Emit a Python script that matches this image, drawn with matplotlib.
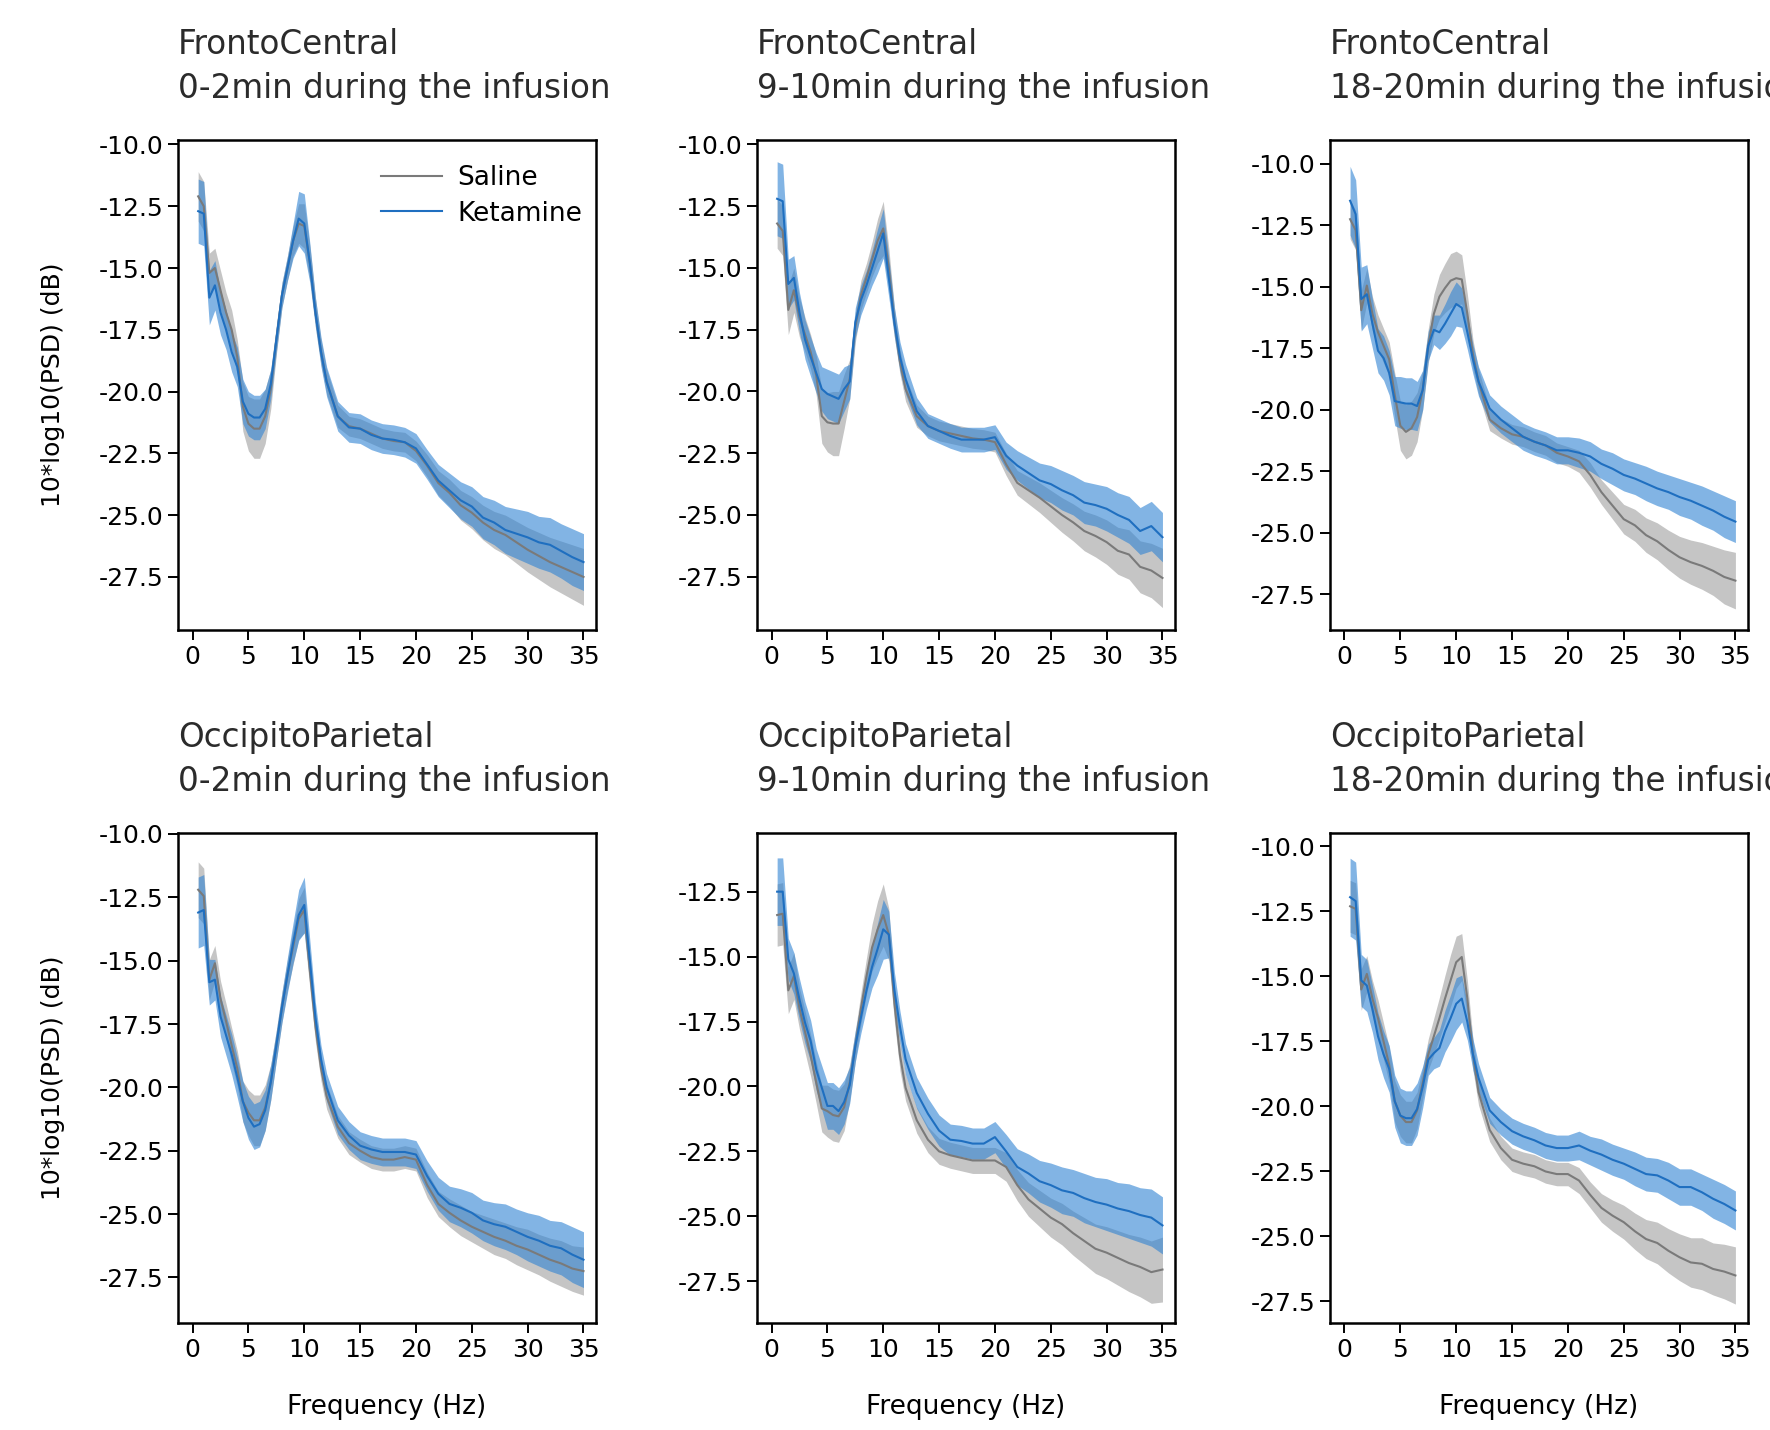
import numpy as np
import matplotlib
matplotlib.use("Agg")
import matplotlib.pyplot as plt
from matplotlib.ticker import MultipleLocator, FormatStrFormatter

plt.rcParams["font.family"] = ["DejaVu Sans"]
plt.rcParams["axes.unicode_minus"] = False

# frequency grid (Hz)
freqs = [0.5, 1, 1.5, 2, 2.5, 3, 3.5, 4, 4.5, 5, 5.5, 6, 6.5, 7, 7.5, 8, 8.5, 9, 9.5, 10, 10.5, 11, 11.5, 12,
         13, 14, 15, 16, 17, 18, 19, 20, 21, 22, 23, 24, 25, 26, 27, 28, 29, 30, 31, 32, 33, 34, 35]

regions = ["FrontoCentral", "OccipitoParietal"]
windows = ["0-2min during the infusion", "9-10min during the infusion", "18-20min during the infusion"]

# FrontoCentral, 0-2 min
fc_0_sal = [-12.1, -12.5, -15.2, -15.0, -15.9, -16.8, -17.5, -18.6, -20.6, -21.3, -21.5, -21.5, -21.0, -19.9, -17.9, -16.1,
            -15.0, -13.9, -13.2, -13.3, -14.8, -16.8, -18.4, -19.6, -21.0, -21.4, -21.5, -21.7, -21.9, -22.0, -22.05, -22.4,
            -23.0, -23.7, -24.1, -24.6, -24.9, -25.3, -25.6, -25.8, -26.1, -26.4, -26.65, -26.9, -27.1, -27.3, -27.5]
fc_0_sal_sem = [1.0, 1.0, 0.8, 0.8, 0.8, 0.8, 0.8, 0.7, 1.0, 1.1, 1.2, 1.2, 1.1, 0.8, 0.6, 0.5, 0.5, 0.6, 0.8, 0.9, 0.7, 0.6, 0.5, 0.5,
                0.45, 0.4, 0.4, 0.4, 0.4, 0.4, 0.4, 0.4, 0.45, 0.5, 0.55, 0.6, 0.65, 0.7, 0.75, 0.8, 0.85, 0.9, 0.95, 1.0, 1.05, 1.1, 1.15]
fc_0_ket = [-12.7, -12.8, -16.2, -15.7, -16.8, -17.5, -18.4, -19.0, -20.4, -20.9, -21.05, -21.05, -20.7, -19.7, -17.9, -16.1,
            -15.0, -13.9, -13.0, -13.2, -14.8, -16.8, -18.4, -19.6, -21.0, -21.45, -21.5, -21.75, -21.9, -21.95, -22.05, -22.3,
            -22.95, -23.6, -24.0, -24.4, -24.65, -25.1, -25.3, -25.6, -25.75, -25.9, -26.1, -26.2, -26.45, -26.7, -26.9]
fc_0_ket_sem = [1.3, 1.3, 1.1, 1.0, 0.9, 0.8, 0.8, 0.8, 0.9, 0.9, 0.9, 0.9, 0.8, 0.6, 0.5, 0.5, 0.5, 0.7, 1.1, 1.2, 0.8, 0.6, 0.6, 0.6,
                0.6, 0.6, 0.6, 0.6, 0.6, 0.6, 0.6, 0.6, 0.6, 0.65, 0.7, 0.75, 0.8, 0.85, 0.9, 0.95, 1.0, 1.05, 1.05, 1.1, 1.1, 1.15, 1.15]

# FrontoCentral, 9-10 min
fc_9_sal = [-13.2, -13.5, -16.7, -15.9, -17.0, -17.7, -18.4, -19.35, -21.0, -21.25, -21.3, -21.3, -20.4, -19.5, -17.4, -16.1,
            -15.4, -14.65, -13.9, -13.4, -15.0, -17.2, -18.8, -19.9, -21.0, -21.4, -21.6, -21.7, -21.8, -21.9, -21.95, -22.05,
            -22.95, -23.7, -24.0, -24.3, -24.65, -25.0, -25.3, -25.65, -25.85, -26.1, -26.45, -26.6, -27.1, -27.25, -27.55]
fc_9_sal_sem = [1.0, 1.0, 1.0, 0.9, 0.8, 0.7, 0.7, 0.8, 1.1, 1.2, 1.3, 1.3, 1.1, 0.8, 0.6, 0.6, 0.6, 0.7, 0.9, 1.1, 0.8, 0.6, 0.5, 0.5,
                0.45, 0.4, 0.4, 0.4, 0.4, 0.4, 0.4, 0.4, 0.45, 0.5, 0.55, 0.6, 0.65, 0.7, 0.75, 0.8, 0.85, 0.9, 0.95, 1.0, 1.05, 1.1, 1.2]
fc_9_ket = [-12.2, -12.3, -15.65, -15.4, -16.8, -17.9, -18.6, -19.25, -19.9, -20.1, -20.2, -20.3, -19.9, -19.6, -17.2, -16.3,
            -15.7, -15.0, -14.3, -13.6, -15.4, -17.2, -18.6, -19.5, -20.8, -21.4, -21.6, -21.8, -21.95, -21.95, -21.95, -21.85,
            -22.6, -23.0, -23.3, -23.6, -23.75, -24.0, -24.2, -24.5, -24.6, -24.75, -25.0, -25.2, -25.65, -25.45, -25.9]
fc_9_ket_sem = [1.5, 1.5, 1.0, 0.9, 0.8, 0.8, 0.8, 0.8, 0.9, 1.0, 1.0, 1.0, 0.9, 0.7, 0.6, 0.6, 0.6, 0.7, 0.9, 1.0, 0.8, 0.6, 0.6, 0.6,
                0.55, 0.5, 0.5, 0.5, 0.5, 0.5, 0.5, 0.5, 0.55, 0.6, 0.65, 0.7, 0.75, 0.8, 0.8, 0.85, 0.85, 0.9, 0.9, 0.95, 0.95, 1.0, 1.0]

# FrontoCentral, 18-20 min
fc_18_sal = [-12.25, -12.7, -15.95, -14.95, -16.1, -16.85, -17.4, -17.95, -19.4, -20.65, -20.9, -20.75, -20.3, -19.2, -17.4, -16.1,
             -15.4, -15.05, -14.75, -14.65, -14.7, -16.1, -17.75, -18.85, -20.4, -20.75, -21.0, -21.1, -21.3, -21.45, -21.75, -21.9,
             -22.1, -22.65, -23.35, -23.9, -24.45, -24.7, -25.1, -25.35, -25.7, -26.0, -26.2, -26.35, -26.55, -26.8, -26.95]
fc_18_sal_sem = [0.8, 0.8, 0.8, 0.7, 0.7, 0.7, 0.7, 0.7, 0.9, 1.0, 1.1, 1.1, 1.0, 0.8, 0.7, 0.8, 0.9, 1.0, 1.1, 1.1, 1.0, 0.8, 0.6, 0.5,
                 0.45, 0.4, 0.4, 0.4, 0.4, 0.4, 0.4, 0.4, 0.45, 0.5, 0.5, 0.55, 0.6, 0.65, 0.7, 0.75, 0.8, 0.85, 0.9, 0.95, 1.0, 1.1, 1.15]
fc_18_ket = [-11.5, -12.05, -15.5, -15.3, -16.5, -17.6, -17.9, -18.5, -19.65, -19.7, -19.75, -19.75, -19.85, -19.2, -17.4, -16.75,
             -16.85, -16.5, -16.1, -15.7, -15.85, -16.85, -17.95, -18.85, -19.95, -20.4, -20.75, -21.1, -21.3, -21.45, -21.65, -21.65,
             -21.75, -21.9, -22.2, -22.4, -22.65, -22.8, -23.0, -23.2, -23.35, -23.55, -23.7, -23.9, -24.1, -24.35, -24.55]
fc_18_ket_sem = [1.4, 1.4, 1.3, 1.2, 1.0, 0.9, 0.9, 0.9, 1.0, 1.05, 1.05, 1.05, 1.0, 0.8, 0.6, 0.6, 0.7, 0.8, 0.9, 0.9, 0.8, 0.7, 0.6, 0.6,
                 0.55, 0.55, 0.55, 0.55, 0.55, 0.55, 0.55, 0.55, 0.6, 0.6, 0.6, 0.65, 0.65, 0.65, 0.7, 0.7, 0.7, 0.75, 0.75, 0.8, 0.8, 0.85, 0.85]

# OccipitoParietal, 0-2 min
op_0_sal = [-12.2, -12.45, -15.75, -15.1, -16.5, -17.4, -18.35, -19.25, -20.55, -21.0, -21.3, -21.3, -20.8, -19.8, -18.35, -16.85,
            -15.55, -14.45, -13.35, -13.0, -15.4, -17.6, -19.25, -20.35, -21.55, -22.2, -22.5, -22.75, -22.85, -22.85, -22.75, -22.85,
            -23.85, -24.6, -24.95, -25.25, -25.5, -25.7, -25.9, -26.05, -26.25, -26.4, -26.6, -26.8, -26.95, -27.15, -27.25]
op_0_sal_sem = [1.1, 1.1, 0.8, 0.7, 0.7, 0.7, 0.7, 0.7, 0.8, 0.9, 1.0, 1.0, 0.9, 0.7, 0.6, 0.6, 0.6, 0.7, 0.8, 0.9, 0.7, 0.6, 0.5, 0.5,
                0.45, 0.45, 0.45, 0.45, 0.45, 0.45, 0.45, 0.45, 0.5, 0.5, 0.55, 0.6, 0.6, 0.65, 0.7, 0.7, 0.75, 0.8, 0.8, 0.85, 0.9, 0.9, 0.95]
op_0_ket = [-13.1, -13.0, -15.85, -15.75, -17.2, -17.95, -18.7, -19.6, -20.55, -21.2, -21.55, -21.45, -20.9, -19.8, -18.35, -16.85,
            -15.55, -14.3, -13.2, -12.8, -15.0, -17.25, -18.9, -20.0, -21.3, -21.9, -22.3, -22.45, -22.55, -22.55, -22.55, -22.65,
            -23.5, -24.2, -24.6, -24.75, -24.95, -25.25, -25.4, -25.5, -25.7, -25.9, -26.05, -26.25, -26.35, -26.6, -26.8]
op_0_ket_sem = [1.4, 1.4, 0.9, 0.8, 0.8, 0.8, 0.8, 0.8, 0.8, 0.85, 0.9, 0.9, 0.8, 0.7, 0.6, 0.6, 0.7, 0.8, 1.0, 1.1, 0.8, 0.6, 0.55, 0.55,
                0.55, 0.55, 0.55, 0.55, 0.55, 0.55, 0.55, 0.55, 0.6, 0.65, 0.7, 0.75, 0.8, 0.8, 0.85, 0.9, 0.9, 0.95, 1.0, 1.0, 1.05, 1.1, 1.1]

# OccipitoParietal, 9-10 min
op_9_sal = [-13.4, -13.35, -16.3, -15.75, -17.0, -17.9, -18.8, -19.85, -20.85, -20.95, -21.1, -21.15, -20.8, -19.85, -18.45, -17.0,
            -15.75, -14.65, -13.95, -13.4, -14.15, -16.8, -18.8, -20.05, -21.3, -22.05, -22.5, -22.65, -22.75, -22.85, -22.85, -22.85,
            -23.1, -23.8, -24.35, -24.7, -25.05, -25.3, -25.65, -25.95, -26.25, -26.4, -26.6, -26.8, -26.95, -27.15, -27.05]
op_9_sal_sem = [1.2, 1.2, 0.9, 0.9, 0.8, 0.8, 0.8, 0.8, 0.9, 1.0, 1.0, 1.0, 0.9, 0.7, 0.6, 0.6, 0.7, 0.9, 1.1, 1.2, 1.0, 0.7, 0.6, 0.5,
                0.5, 0.5, 0.5, 0.5, 0.5, 0.5, 0.5, 0.5, 0.55, 0.6, 0.65, 0.7, 0.75, 0.8, 0.85, 0.9, 0.95, 1.0, 1.05, 1.1, 1.15, 1.2, 1.25]
op_9_ket = [-12.5, -12.5, -15.1, -15.65, -16.65, -17.55, -18.25, -19.35, -20.05, -20.75, -20.75, -20.95, -20.6, -19.95, -18.45, -17.35,
            -16.3, -15.4, -14.7, -13.95, -14.15, -16.3, -17.7, -18.95, -20.25, -21.05, -21.7, -22.05, -22.1, -22.2, -22.2, -21.95,
            -22.5, -23.1, -23.35, -23.65, -23.8, -24.0, -24.1, -24.3, -24.45, -24.55, -24.7, -24.8, -24.95, -25.05, -25.35]
op_9_ket_sem = [1.3, 1.3, 0.8, 0.8, 0.8, 0.8, 0.8, 0.8, 0.85, 0.9, 0.9, 0.9, 0.85, 0.7, 0.6, 0.6, 0.7, 0.8, 1.0, 1.15, 0.9, 0.7, 0.6, 0.6,
                0.6, 0.6, 0.6, 0.6, 0.6, 0.6, 0.6, 0.6, 0.65, 0.7, 0.75, 0.8, 0.85, 0.9, 0.9, 0.95, 0.95, 1.0, 1.0, 1.05, 1.05, 1.1, 1.1]

# OccipitoParietal, 18-20 min
op_18_sal = [-12.3, -12.4, -15.5, -14.9, -15.85, -16.6, -17.5, -18.4, -19.8, -20.35, -20.6, -20.6, -20.15, -19.1, -18.0, -17.3,
             -16.6, -15.85, -15.15, -14.45, -14.25, -15.85, -18.0, -19.45, -20.9, -21.6, -22.05, -22.2, -22.3, -22.5, -22.6, -22.6,
             -22.85, -23.4, -23.9, -24.2, -24.45, -24.8, -25.1, -25.25, -25.55, -25.8, -26.0, -26.05, -26.25, -26.35, -26.5]
op_18_sal_sem = [1.0, 1.0, 0.8, 0.7, 0.7, 0.7, 0.7, 0.7, 0.8, 0.8, 0.8, 0.8, 0.7, 0.6, 0.6, 0.7, 0.8, 0.9, 1.0, 1.0, 0.9, 0.7, 0.6, 0.5,
                 0.45, 0.45, 0.45, 0.45, 0.45, 0.45, 0.45, 0.45, 0.5, 0.5, 0.55, 0.6, 0.65, 0.7, 0.75, 0.8, 0.85, 0.9, 0.95, 1.0, 1.0, 1.05, 1.1]
op_18_ket = [-11.95, -12.1, -15.15, -15.35, -16.25, -17.3, -18.0, -18.55, -19.8, -20.35, -20.45, -20.45, -20.1, -19.25, -18.2, -17.95,
             -17.75, -17.1, -16.6, -16.05, -15.85, -16.75, -18.0, -18.9, -20.15, -20.6, -20.95, -21.15, -21.3, -21.5, -21.6, -21.6,
             -21.5, -21.7, -21.85, -22.05, -22.2, -22.4, -22.6, -22.65, -22.85, -23.1, -23.1, -23.3, -23.55, -23.75, -24.0]
op_18_ket_sem = [1.5, 1.5, 1.0, 1.0, 0.9, 0.9, 0.9, 0.9, 1.0, 1.05, 1.05, 1.05, 1.0, 0.8, 0.6, 0.6, 0.7, 0.8, 0.9, 1.0, 0.9, 0.7, 0.6, 0.55,
                 0.5, 0.5, 0.5, 0.5, 0.5, 0.5, 0.5, 0.5, 0.55, 0.55, 0.6, 0.6, 0.6, 0.65, 0.65, 0.65, 0.7, 0.7, 0.7, 0.7, 0.75, 0.75, 0.75]

panels = [
    [(fc_0_sal, fc_0_sal_sem, fc_0_ket, fc_0_ket_sem),
     (fc_9_sal, fc_9_sal_sem, fc_9_ket, fc_9_ket_sem),
     (fc_18_sal, fc_18_sal_sem, fc_18_ket, fc_18_ket_sem)],
    [(op_0_sal, op_0_sal_sem, op_0_ket, op_0_ket_sem),
     (op_9_sal, op_9_sal_sem, op_9_ket, op_9_ket_sem),
     (op_18_sal, op_18_sal_sem, op_18_ket, op_18_ket_sem)],
]
ylims = [[(-29.65, -9.82), (-29.66, -9.82), (-28.96, -9.03)],
         [(-29.3, -9.96), (-29.11, -10.24), (-28.33, -9.48)]]

sal_line, sal_fill = "#7a7a7a", "#a6a6a6"
ket_line, ket_fill = "#1f6fc0", "#2f83d3"

fig = plt.figure(figsize=(17.7, 14.3), dpi=100)
lefts = [0.1006, 0.4277, 0.7514]
bottoms = [0.5594, 0.0748]
w, h = 0.236, 0.3427

x = np.array(freqs)
for r in range(2):
    for c in range(3):
        ax = fig.add_axes([lefts[c], bottoms[r], w, h])
        sal, sal_sem, ket, ket_sem = [np.array(a) for a in panels[r][c]]
        ax.fill_between(x, sal - sal_sem, sal + sal_sem, color=sal_fill, alpha=0.65, lw=0)
        ax.fill_between(x, ket - ket_sem, ket + ket_sem, color=ket_fill, alpha=0.6, lw=0)
        ax.plot(x, sal, color=sal_line, lw=1.5, label="Saline")
        ax.plot(x, ket, color=ket_line, lw=1.5, label="Ketamine")
        ax.set_xlim(-1.3, 36.1)
        ax.set_ylim(*ylims[r][c])
        ax.xaxis.set_major_locator(MultipleLocator(5))
        ax.yaxis.set_major_locator(MultipleLocator(2.5))
        ax.yaxis.set_major_formatter(FormatStrFormatter("%.1f"))
        ax.tick_params(direction="out", length=7, width=1.4, labelsize=18, color="black")
        for s in ax.spines.values():
            s.set_linewidth(1.8)
            s.set_color("black")
        ax.set_title(regions[r] + "\n" + windows[c], loc="left", fontsize=23.5, pad=30,
                     color="#2b2b2b", linespacing=1.45)
        if c == 0:
            ax.set_ylabel("10*log10(PSD) (dB)", fontsize=18)
            ax.yaxis.set_label_coords(-0.27, 0.5)
        if r == 1:
            ax.set_xlabel("Frequency (Hz)", fontsize=19)
            ax.xaxis.set_label_coords(0.5, -0.145)
        if r == 0 and c == 0:
            ax.legend(loc="upper right", bbox_to_anchor=(1.0, 0.975), frameon=False, fontsize=19,
                      handlelength=2.3, handletextpad=0.6, labelspacing=0.35, borderaxespad=0.1)

fig.savefig("out.png", dpi=100)
